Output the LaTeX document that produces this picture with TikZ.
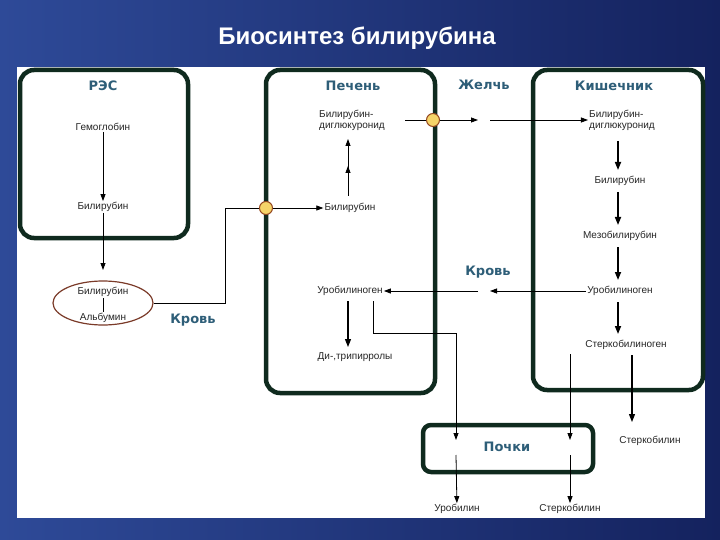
\documentclass[tikz,border=0pt]{standalone}
\usepackage{fontspec}
\setmainfont{Liberation Sans}
\newfontfamily\vfont{DejaVu Sans}
\usetikzlibrary{arrows.meta,shapes.geometric}
\definecolor{bgA}{HTML}{2E4A98}
\definecolor{bgB}{HTML}{14225E}
\definecolor{boxc}{HTML}{0F2A1E}
\definecolor{teal}{HTML}{2E5E78}
\definecolor{ell}{HTML}{7A3A28}
\definecolor{dotc}{HTML}{F5D468}
\tikzset{
 box/.style={draw=boxc,line width=4.5pt,rounded corners=14pt},
 hd/.style={font=\vfont\bfseries\fontsize{13}{14}\selectfont,text=teal},
 tx/.style={font=\fontsize{10}{11}\selectfont,text=black!85,align=center,inner sep=1pt},
 ar/.style={-{Triangle[length=7pt,width=5pt]},line width=0.8pt},
 arb/.style={-{Triangle[length=8pt,width=6pt]},line width=1.6pt},
 ln/.style={line width=0.8pt},
 dot/.style={circle,draw=ell!80!orange,fill=dotc,line width=1pt,minimum size=13pt,inner sep=0pt}
}
\begin{document}
\begin{tikzpicture}[x=1pt,y=-1pt]
\useasboundingbox (0,0) rectangle (720,540);
\shade[left color=bgA,right color=bgB] (0,0) rectangle (720,540);
\fill[white] (17,67) rectangle (705,518);
\node[font=\bfseries\fontsize{24}{26}\selectfont,text=white] (title) at (357,38) {Биосинтез билирубина};
% boxes
\draw[box] (20,70) rectangle (188,238);
\draw[box] (266,70) rectangle (435,393);
\draw[box] (533,70) rectangle (703,390);
\draw[box,rounded corners=8pt] (423,425) rectangle (593,472);
% RES
\node[hd] (res) at (103,86) {РЭС};
\node[tx] (hem) at (103,127) {Гемоглобин};
\node[tx] (b1) at (103,207) {Билирубин};
\draw[ar] (hem) -- (b1);
\node[draw=ell,line width=1.2pt,ellipse,minimum width=100pt,minimum height=44pt] (el) at (103,303) {};
\node[tx] (b2) at (103,292) {Билирубин};
\node[tx] (alb) at (103,318) {Альбумин};
\draw[ar] (b1) -- (103,270);
\draw[ln] (103,298) -- (103,312);
\node[hd] (kr1) at (193,320) {Кровь};
% liver
\coordinate (d1) at (266,208);
\node[hd] (liv) at (353,86) {Печень};
\node[tx,align=left] (bdg) at (352,120) {Билирубин-\\диглюкуронид};
\node[tx] (b3) at (350,208) {Билирубин};
\draw[ln] (el.east) -- (225,303) -- (225,208) -- (d1);
\draw[ar] (d1) -- (b3.west);
\node[dot] at (d1) {};
\draw[ar] (348,196) -- (348,166);
\draw[ar] (348,170) -- (348,139);
\node[tx] (u1) at (350,291) {Уробилиноген};
\node[tx] (dtp) at (355,357) {Ди-,трипирролы};
\draw[arb,line width=1.2pt] (348,301) -- (348,347);
% bile
\node[hd] (bile) at (484,85) {Желчь};
\coordinate (d2) at (433,120);
\draw[ar] (405,120) -- (478,120);
\node[dot] at (d2) {};
\node[hd] (int) at (614,86) {Кишечник};
\node[tx,align=left] (ibdg) at (622,120) {Билирубин-\\диглюкуронид};
\draw[ar] (490,120) -- (ibdg.west);
\node[tx] (ib) at (620,181) {Билирубин};
\node[tx] (im) at (620,236) {Мезобилирубин};
\node[tx] (iu) at (620,291) {Уробилиноген};
\node[tx] (is) at (626,345) {Стеркобилиноген};
\draw[arb] (618,141) -- (618,170);
\draw[arb] (618,192) -- (618,225);
\draw[arb] (618,247) -- (618,280);
\draw[arb] (618,302) -- (618,334);
\node[hd] (kr2) at (488,272) {Кровь};
\draw[ar] (iu.west) -- (490,291);
\draw[ar] (478,291) -- (u1.east);
% kidneys
\node[hd] (kid) at (507,447) {Почки};
\draw[ln] (373,301) -- (373,333) -- (456,333);
\draw[ar] (456,333) -- (456,440);
\node[tx] (urob) at (457,509) {Уробилин};
\draw[ar] (456,455) -- (urob);
\draw[ar] (570,354) -- (570,440);
\node[tx] (st1) at (570,509) {Стеркобилин};
\draw[ar] (570,455) -- (st1);
\node[tx] (st2) at (650,441) {Стеркобилин};
\draw[arb,line width=1.2pt] (632,355) -- (632,422);
\end{tikzpicture}
\end{document}
